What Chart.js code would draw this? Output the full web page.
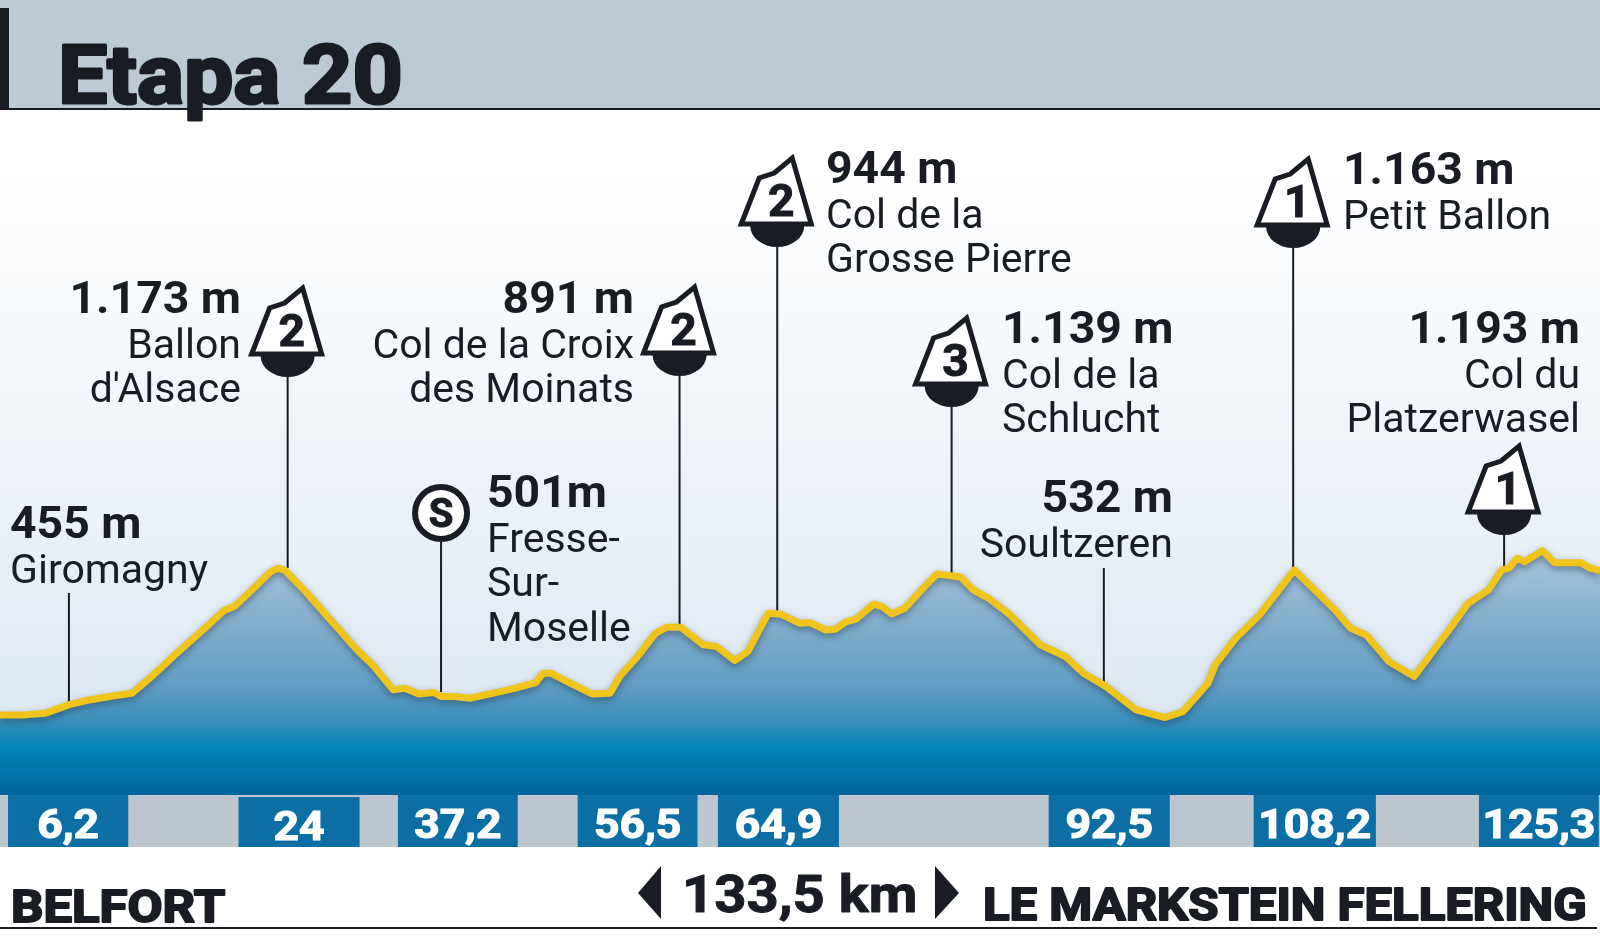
<!DOCTYPE html>
<html>
<head>
<meta charset="utf-8">
<title>Etapa 20</title>
<script src="https://cdn.jsdelivr.net/npm/chart.js@4/dist/chart.umd.js"></script>
<style>
  html, body { margin: 0; padding: 0; background: #fff; }
  canvas { display: block; }
</style>
</head>
<body>
<canvas id="profile" width="1600" height="936"></canvas>
<script>
// Profile: distance in km, height in m
var profileKm = [0, 2.1, 3.8, 5.7, 7.2, 9.4, 11.0, 12.8, 14.9, 17.0, 18.7, 19.6, 21.3, 22.6, 23.2, 23.8,
  25.5, 27.7, 29.8, 31.1, 32.8, 33.8, 34.9, 36.2, 36.8, 37.9, 39.2, 40.9, 43.0, 44.7, 45.3, 46.0,
  47.7, 49.4, 50.9, 51.7, 53.2, 54.7, 55.6, 56.8, 58.7, 59.8, 61.3, 62.4, 64.1, 65.1, 66.75,
  67.6, 68.9, 69.7, 70.6, 71.4, 72.9, 73.6, 74.4, 75.5, 77.4, 78.2, 80.2, 81.2, 82.5, 84.2,
  86.8, 88.9, 90.4, 92.3, 94.8, 97.2, 98.7, 100.8, 101.4, 103.1, 105.1, 108.0, 111.4, 112.7, 114.0,
  115.9, 118.0, 120.8, 122.5, 124.2, 125.3, 125.9, 126.6, 127.2, 128.7, 129.7, 131.9, 132.7, 133.5];
var profileHeight = [403, 403, 412, 455, 478, 502, 516, 612, 735, 852, 950, 974, 1075, 1154, 1172, 1159,
  1049, 892, 743, 665, 534, 543, 513, 520, 499, 499, 490, 513, 543, 572, 621, 621,
  565, 513, 516, 604, 709, 831, 862, 862, 770, 761, 688, 735, 936, 932, 883,
  887, 848, 852, 892, 904, 983, 971, 932, 962, 1093, 1142, 1124, 1058, 1014, 932,
  770, 709, 621, 551, 429, 389, 420, 569, 665, 805, 927, 1163, 953, 857, 822,
  682, 604, 840, 988, 1058, 1163, 1172, 1224, 1206, 1264, 1201, 1201, 1172, 1159];

// Drop lines: km and the height where they touch the profile
var stemKm = [5.75, 24, 36.8, 56.7, 64.85, 79.4, 92.1, 107.9, 125.5];
var stemHeight = [465, 1173, 523, 874, 942, 1147, 575, 1173, 1178];

// Climb icons: km and category
var climbKm = [24, 56.7, 64.85, 79.4, 107.9, 125.5];
var climbCategory = ['2', '2', '2', '3', '1', '1'];

// Intermediate points strip
var stripStartKm = [0.67, 19.9, 33.2, 48.2, 59.9, 87.5, 104.6, 123.4];
var stripEndKm = [10.7, 30.0, 43.2, 58.2, 70.0, 97.6, 114.8, 133.4];
var stripLabels = ['6,2', '24', '37,2', '56,5', '64,9', '92,5', '108,2', '125,3'];

// Place names and heights
var placeHeights = ['455 m', '1.173 m', '501m', '891 m', '944 m', '1.139 m', '532 m', '1.163 m', '1.193 m'];
var placeNames = [
  ['Giromagny'],
  ['Ballon', "d'Alsace"],
  ['Fresse-', 'Sur-', 'Moselle'],
  ['Col de la Croix', 'des Moinats'],
  ['Col de la', 'Grosse Pierre'],
  ['Col de la', 'Schlucht'],
  ['Soultzeren'],
  ['Petit Ballon'],
  ['Col du', 'Platzerwasel']
];

var titleText = 'Etapa 20';
var startText = 'BELFORT';
var finishText = 'LE MARKSTEIN FELLERING';
var distanceText = '133,5 km';

// Layout in pixels, kept apart from the data
var INK = '#191c23';
var STEM_TOPS = [593, 377, 542, 376, 247, 407, 568, 248, 535];
var ICON_BASES = [356, 355, 226, 386, 227, 514];
var PLACE_X = [10, 241, 487, 634, 826, 1002, 1173, 1343, 1580];
var PLACE_ALIGN = ['left', 'right', 'left', 'right', 'left', 'left', 'right', 'left', 'right'];
var PLACE_BASE = [538, 313, 507, 313, 183, 343, 512, 184, 343];
var REGULAR_FONT = '41px Roboto';
var BOLD_FONT = 'bold 45px Roboto';
var REGULAR_STRETCH = 1.0;
var BOLD_STRETCH = 1.03;

function drawText(ctx, text, x, y, font, align, stretch, color, weight) {
  ctx.save();
  ctx.translate(x, y);
  ctx.scale(stretch, 1);
  ctx.font = font;
  ctx.textAlign = align;
  ctx.textBaseline = 'alphabetic';
  ctx.fillStyle = color || INK;
  ctx.fillText(text, 0, 0);
  // Thicken the heavy headings, Roboto Bold is lighter than the original
  if (weight) {
    ctx.strokeStyle = color || INK;
    ctx.lineWidth = weight;
    ctx.lineJoin = 'round';
    ctx.strokeText(text, 0, 0);
  }
  ctx.restore();
}

// Small mountain with the semicircle under it
function drawClimbIcon(ctx, x, baseY, category) {
  ctx.fillStyle = INK;
  ctx.beginPath();
  ctx.ellipse(x, baseY, 27, 21, 0, 0, Math.PI);
  ctx.fill();

  ctx.beginPath();
  ctx.moveTo(x - 36, baseY - 2);
  ctx.lineTo(x - 18, baseY - 48);
  ctx.lineTo(x - 3, baseY - 53);
  ctx.lineTo(x + 15, baseY - 68);
  ctx.lineTo(x + 34, baseY - 2);
  ctx.closePath();
  ctx.fillStyle = '#fff';
  ctx.fill();
  ctx.lineWidth = 5;
  ctx.lineJoin = 'miter';
  ctx.miterLimit = 10;
  ctx.strokeStyle = INK;
  ctx.stroke();

  drawText(ctx, category, x + 4, baseY - 10, 'bold 44px Roboto', 'center', 1.05, INK, 1);
}

var stagePlugin = {
  id: 'stage',
  beforeDraw: function(chart) {
    var ctx = chart.ctx;
    var sky = ctx.createLinearGradient(0, 180, 0, 800);
    sky.addColorStop(0, '#ffffff');
    sky.addColorStop(1, '#d9e5f1');
    ctx.fillStyle = sky;
    ctx.fillRect(0, 110, 1600, 700);

    ctx.fillStyle = '#bccad3';
    ctx.fillRect(0, 0, 1600, 109);
    ctx.fillStyle = INK;
    ctx.fillRect(0, 108, 1600, 2);
    ctx.fillRect(0, 8, 9, 102);
  },
  beforeDatasetsDraw: function(chart) {
    var ctx = chart.ctx;
    var xScale = chart.scales.x;
    var yScale = chart.scales.y;

    ctx.strokeStyle = INK;
    ctx.lineWidth = 2;
    stemKm.forEach(function(km, i) {
      var x = xScale.getPixelForValue(km);
      ctx.beginPath();
      ctx.moveTo(x, STEM_TOPS[i]);
      ctx.lineTo(x, yScale.getPixelForValue(stemHeight[i]));
      ctx.stroke();
    });
  },
  beforeDatasetDraw: function(chart) {
    chart.ctx.save();
    chart.ctx.shadowColor = 'rgba(30, 50, 70, 0.5)';
    chart.ctx.shadowBlur = 7;
    chart.ctx.shadowOffsetY = 3;
  },
  afterDatasetDraw: function(chart) {
    chart.ctx.restore();
  },
  afterDatasetsDraw: function(chart) {
    var ctx = chart.ctx;
    var xScale = chart.scales.x;

    // Strip under the profile
    ctx.fillStyle = '#bcc6cf';
    ctx.fillRect(0, 795, 1600, 52);
    stripLabels.forEach(function(label, i) {
      var left = xScale.getPixelForValue(stripStartKm[i]);
      var right = xScale.getPixelForValue(stripEndKm[i]);
      var shift = label === '24' ? 2 : 0;
      ctx.fillStyle = '#0b6fa6';
      ctx.fillRect(left, 795 + shift, right - left, 52);
      drawText(ctx, label, (left + right) / 2, 838 + shift, 'bold 40px Roboto', 'center', 1.11, '#fff', 1.2);
    });
    ctx.fillStyle = '#fff';
    ctx.fillRect(0, 847, 1600, 2);

    climbKm.forEach(function(km, i) {
      drawClimbIcon(ctx, xScale.getPixelForValue(km), ICON_BASES[i], climbCategory[i]);
    });

    // Sprint circle
    ctx.beginPath();
    ctx.arc(xScale.getPixelForValue(stemKm[2]), 513, 26, 0, Math.PI * 2);
    ctx.fillStyle = '#fff';
    ctx.fill();
    ctx.lineWidth = 6;
    ctx.strokeStyle = INK;
    ctx.stroke();
    drawText(ctx, 'S', xScale.getPixelForValue(stemKm[2]), 527, 'bold 40px Roboto', 'center', 1.0, INK, 1);

    // Place labels
    placeHeights.forEach(function(height, i) {
      drawText(ctx, height, PLACE_X[i], PLACE_BASE[i], BOLD_FONT, PLACE_ALIGN[i], BOLD_STRETCH);
      placeNames[i].forEach(function(name, row) {
        drawText(ctx, name, PLACE_X[i], PLACE_BASE[i] + 44.5 * (row + 1), REGULAR_FONT, PLACE_ALIGN[i], REGULAR_STRETCH);
      });
    });

    // Title and footer
    drawText(ctx, titleText, 58, 103, 'bold 82px Roboto', 'left', 1.07, INK, 3);
    drawText(ctx, startText, 11, 922, 'bold 45px Roboto', 'left', 1.13, INK, 2);
    drawText(ctx, finishText, 983, 920, 'bold 45px Roboto', 'left', 1.09, INK, 2);
    drawText(ctx, distanceText, 682, 912, 'bold 52px Roboto', 'left', 1.08, INK, 1);

    ctx.fillStyle = INK;
    ctx.beginPath();
    ctx.moveTo(661, 866);
    ctx.lineTo(661, 919);
    ctx.lineTo(638, 893);
    ctx.closePath();
    ctx.fill();
    ctx.beginPath();
    ctx.moveTo(935, 866);
    ctx.lineTo(935, 919);
    ctx.lineTo(959, 893);
    ctx.closePath();
    ctx.fill();
    ctx.fillRect(0, 927, 1597, 2);
  }
};

// Area gradient from the pale top to the deep blue at the strip
function areaGradient(context) {
  var g = context.chart.ctx.createLinearGradient(0, 560, 0, 795);
  g.addColorStop(0, '#a3c3da');
  g.addColorStop(0.35, '#78a9ca');
  g.addColorStop(0.55, '#5f9cc2');
  g.addColorStop(0.68, '#3a90bb');
  g.addColorStop(0.8, '#0383b7');
  g.addColorStop(1, '#00649b');
  return g;
}

var points = profileKm.map(function(km, i) {
  return { x: km, y: profileHeight[i] };
});

new Chart(document.getElementById('profile').getContext('2d'), {
  type: 'line',
  plugins: [stagePlugin],
  data: {
    datasets: [{
      label: 'Altitud',
      data: points,
      borderColor: '#f0c41b',
      borderWidth: 7,
      borderJoinStyle: 'round',
      backgroundColor: areaGradient,
      fill: { value: -17 },
      pointRadius: 0,
      tension: 0,
      clip: false
    }]
  },
  options: {
    responsive: false,
    animation: false,
    layout: { padding: 0 },
    plugins: { legend: { display: false }, tooltip: { enabled: false } },
    scales: {
      x: { type: 'linear', min: 0, max: 133.5, display: false },
      y: { min: -756, max: 4150, display: false }
    }
  }
});
</script>
</body>
</html>
